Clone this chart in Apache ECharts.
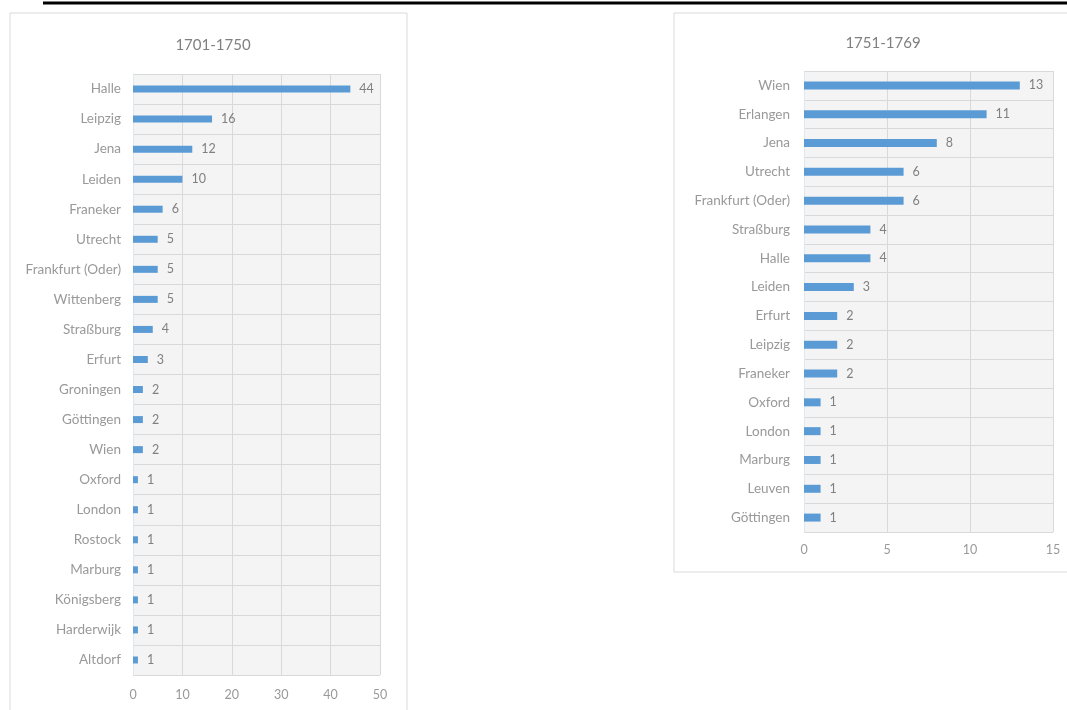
<!DOCTYPE html>
<html>
<head>
<meta charset="utf-8">
<script src="https://cdn.jsdelivr.net/npm/echarts@6/dist/echarts.min.js"></script>
<style>
html,body{margin:0;padding:0;background:#fff;}
#c{width:1067px;height:710px;}
</style>
</head>
<body>
<div id="c"></div>
<script>
const titleLeft = '1701-1750';
const citiesLeft = ['Halle','Leipzig','Jena','Leiden','Franeker','Utrecht','Frankfurt (Oder)','Wittenberg','Straßburg','Erfurt','Groningen','Göttingen','Wien','Oxford','London','Rostock','Marburg','Königsberg','Harderwijk','Altdorf'];
const valuesLeft = [44,16,12,10,6,5,5,5,4,3,2,2,2,1,1,1,1,1,1,1];
const ticksLeft = [0,10,20,30,40,50];

const titleRight = '1751-1769';
const citiesRight = ['Wien','Erlangen','Jena','Utrecht','Frankfurt (Oder)','Straßburg','Halle','Leiden','Erfurt','Leipzig','Franeker','Oxford','London','Marburg','Leuven','Göttingen'];
const valuesRight = [13,11,8,6,6,4,4,3,2,2,2,1,1,1,1,1];
const ticksRight = [0,5,10,15];

const FONT = 'Lato, "Open Sans", sans-serif';
const BLUE = '#5b9bd5';
const chart = echarts.init(document.getElementById('c'));

function xAxis(gi, ticks, margin){
  return {
    type:'value', gridIndex:gi, min:ticks[0], max:ticks[ticks.length-1],
    interval:ticks[1]-ticks[0],
    axisLine:{show:false}, axisTick:{show:false},
    axisLabel:{color:'#999999', fontSize:12.5, fontFamily:FONT, margin:margin},
    splitLine:{show:true, lineStyle:{color:'#d9d9d9', width:1}}
  };
}
function yAxis(gi, cats, margin, fs){
  return {
    type:'category', gridIndex:gi, data:cats, inverse:true,
    axisLine:{show:true, lineStyle:{color:'#dde8f3'}}, axisTick:{show:false},
    axisLabel:{color:'#999999', fontSize:fs, fontFamily:FONT, margin:margin},
    splitLine:{show:true, lineStyle:{color:'#d9d9d9', width:1}}
  };
}
function series(gi, vals, bw){
  return {
    type:'bar', xAxisIndex:gi, yAxisIndex:gi, data:vals, barWidth:bw,
    itemStyle:{color:BLUE},
    label:{show:true, position:'right', distance:9, color:'#808080', fontSize:12.5, fontFamily:FONT},
    silent:true
  };
}

chart.setOption({
  animation:false,
  title:[
    {text:titleLeft, left:208, top:33, textAlign:'center', textStyle:{color:'#808080', fontSize:15, fontWeight:'normal', fontFamily:FONT}},
    {text:titleRight, left:878, top:31, textAlign:'center', textStyle:{color:'#808080', fontSize:15, fontWeight:'normal', fontFamily:FONT}}
  ],
  graphic:[
    {type:'line', shape:{x1:43,y1:3,x2:1067,y2:3}, style:{stroke:'#000', lineWidth:3}, z:10},
    {type:'rect', shape:{x:10,y:13,width:397,height:720}, style:{fill:'none', stroke:'#d9d9d9', lineWidth:1}, z:-1},
    {type:'rect', shape:{x:674,y:13,width:420,height:559}, style:{fill:'none', stroke:'#d9d9d9', lineWidth:1}, z:-1}
  ],
  grid:[
    {left:133, top:74, width:247, height:601, show:true, backgroundColor:'#f4f4f4', borderWidth:0},
    {left:804, top:71, width:249, height:461, show:true, backgroundColor:'#f4f4f4', borderWidth:0}
  ],
  xAxis:[xAxis(0, ticksLeft, 13), xAxis(1, ticksRight, 11)],
  yAxis:[yAxis(0, citiesLeft, 12, 13.5), yAxis(1, citiesRight, 14, 13.5)],
  series:[series(0, valuesLeft, 7), series(1, valuesRight, 8)]
});
</script>
</body>
</html>
